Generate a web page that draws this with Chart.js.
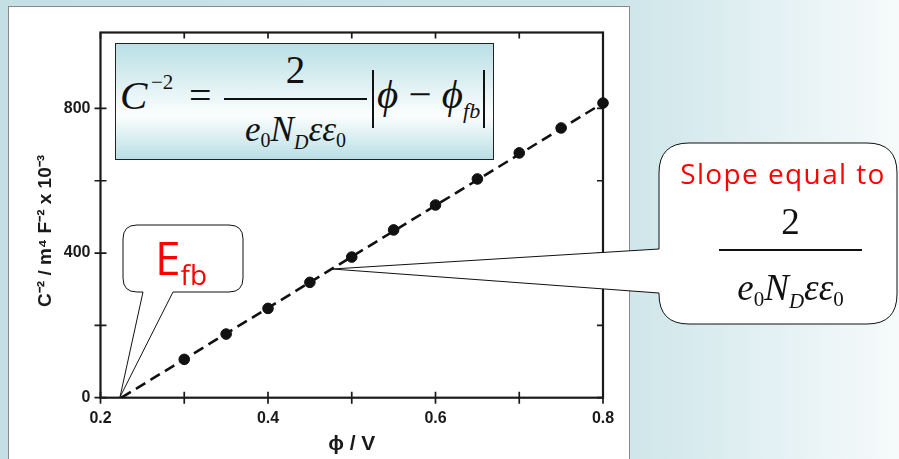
<!DOCTYPE html>
<html>
<head>
<meta charset="utf-8">
<script src="https://cdn.jsdelivr.net/npm/chart.js@4.4.0/dist/chart.umd.min.js"></script>
<style>
  html, body { margin: 0; padding: 0; }
  body {
    width: 899px; height: 459px; overflow: hidden; position: relative;
    background: linear-gradient(to right, #c4e0e5 0%, #cce5e9 68%, #f6fafb 100%);
  }
  #page {
    position: absolute; left: 8px; top: 6px; width: 620px; height: 470px;
    background: #fff; border: 1px solid #8a8a8a;
  }
  #chartWrap { position: absolute; left: 0; top: 0; width: 899px; height: 459px; }
  .abs { position: absolute; white-space: nowrap; line-height: 1; }
  .serif { font-family: "Liberation Serif", "Times New Roman", serif; color: #111; }
  .formula {
    position: absolute; left: 115px; top: 43px; width: 377px; height: 115px;
    border: 1.5px solid #222;
    background: linear-gradient(to bottom, #b9dfe5 0%, #fcfefe 62%, #b9dfe5 100%);
  }
  .bar { position: absolute; background: #111; }
  .red { color: #ff0000; font-family: "Open Sans", "DejaVu Sans", sans-serif; }
  svg { position: absolute; left: 0; top: 0; }
</style>
</head>
<body>
<div id="page"></div>
<div id="chartWrap"><canvas id="mottSchottky" width="899" height="459"></canvas></div>

<div class="formula"></div>
<!-- C^-2 = 2 / (e0 ND ee0) |phi - phi_fb| -->
<div class="abs serif" style="left:120px; top:75px; font-size:41px; font-style:italic;">C</div>
<div class="abs serif" style="left:151px; top:72px; font-size:21px;">&minus;2</div>
<div class="abs serif" style="left:189px; top:76px; font-size:40px;">=</div>
<div class="abs serif" style="left:224px; top:50px; width:143px; text-align:center; font-size:39px;">2</div>
<div class="bar" style="left:224px; top:98px; width:143px; height:2px;"></div>
<div class="abs serif" style="left:224px; top:112px; width:143px; text-align:center; font-size:35px;"><i>e</i><span style="font-size:20px; position:relative; top:6px;">0</span><i>N</i><i style="font-size:20px; position:relative; top:8px;">D</i><i>&epsilon;&epsilon;</i><span style="font-size:20px; position:relative; top:6px;">0</span></div>
<div class="bar" style="left:372px; top:70px; width:1.5px; height:58px;"></div>
<div class="abs serif" style="left:377px; top:74px; font-size:41px; font-style:italic;">&#981;<span style="font-style:normal;"> &minus; </span>&#981;<span style="font-size:22px; position:relative; top:10px;">fb</span></div>
<div class="bar" style="left:483px; top:70px; width:1.5px; height:58px;"></div>

<svg width="899" height="459" viewBox="0 0 899 459">
  <path d="M137,225 H229 Q243,225 243,239 V278 Q243,292 229,292 H173 L120,397 L143,292 H137 Q123,292 123,278 V239 Q123,225 137,225 Z"
        fill="#fff" stroke="#111" stroke-width="1"/>
  <path d="M689,143 H867 Q897,143 897,173 V294 Q897,324 867,324 H689 Q659,324 659,294 V293 L332,269 L659,249 V173 Q659,143 689,143 Z"
        fill="#fff" stroke="#111" stroke-width="1"/>
</svg>

<div class="abs red" style="left:155px; top:234px; font-size:46px;">E<span style="font-size:28px; position:relative; top:10px;">fb</span></div>
<div class="abs red" style="left:659px; top:159px; width:248px; text-align:center; font-size:28px; letter-spacing:1.4px;">Slope equal to</div>
<div class="abs serif" style="left:719px; top:203px; width:143px; text-align:center; font-size:37px;">2</div>
<div class="bar" style="left:719px; top:249px; width:143px; height:2px;"></div>
<div class="abs serif" style="left:719px; top:269px; width:143px; text-align:center; font-size:37px;"><i>e</i><span style="font-size:21px; position:relative; top:6px;">0</span><i>N</i><i style="font-size:21px; position:relative; top:8px;">D</i><i>&epsilon;&epsilon;</i><span style="font-size:21px; position:relative; top:6px;">0</span></div>

<script>
// measured points: phi (V) vs C^-2 (m^4 F^-2 x 10^-3)
const phiValues = [0.30, 0.35, 0.40, 0.45, 0.50, 0.55, 0.60, 0.65, 0.70, 0.75, 0.80];
const invC2Values = [106, 176, 247, 319, 389, 464, 533, 605, 677, 746, 815];

// dashed fit line, from the flat-band potential to the last point
const fitPhi = [0.225, 0.80];
const fitInvC2 = [0, 815];

// tick marks and which of them carry a label
const xTickValues = [0.2, 0.3, 0.4, 0.5, 0.6, 0.7, 0.8];
const xLabelled = [0.2, 0.4, 0.6, 0.8];
const yTickValues = [0, 200, 400, 600, 800];
const yLabelled = [0, 400, 800];

const axisColor = '#1a1a1a';

// frame round the plot area plus tick marks that cross the axes
const frameAndTicks = {
    id: 'frameAndTicks',
    beforeDatasetsDraw(chart) {
        const { ctx, chartArea: a, scales } = chart;
        ctx.save();
        ctx.strokeStyle = axisColor;
        ctx.lineWidth = 2.2;
        ctx.strokeRect(a.left, a.top, a.right - a.left, a.bottom - a.top);
        ctx.lineWidth = 1.7;
        ctx.beginPath();
        scales.x.ticks.forEach(t => {
            const px = scales.x.getPixelForValue(t.value);
            ctx.moveTo(px, a.bottom - 6); ctx.lineTo(px, a.bottom + 6);
            ctx.moveTo(px, a.top); ctx.lineTo(px, a.top + 6);
        });
        scales.y.ticks.forEach(t => {
            const py = scales.y.getPixelForValue(t.value);
            ctx.moveTo(a.left - 6, py); ctx.lineTo(a.left + 6, py);
            ctx.moveTo(a.right - 6, py); ctx.lineTo(a.right, py);
        });
        ctx.stroke();
        ctx.restore();
    }
};

const tickFont = { family: '"Liberation Sans", Arial, sans-serif', size: 16, weight: 'bold' };

new Chart(document.getElementById('mottSchottky'), {
    type: 'scatter',
    data: {
        datasets: [{
            label: 'data',
            data: phiValues.map((p, i) => ({ x: p, y: invC2Values[i] })),
            pointRadius: 5.3,
            pointBackgroundColor: '#111',
            pointBorderColor: '#111',
            showLine: false,
            clip: false
        }, {
            label: 'fit',
            data: fitPhi.map((p, i) => ({ x: p, y: fitInvC2[i] })),
            showLine: true,
            borderColor: '#111',
            borderWidth: 2.6,
            borderDash: [11, 6],
            pointRadius: 0,
            clip: false
        }]
    },
    options: {
        responsive: false,
        animation: false,
        devicePixelRatio: 1,
        layout: { padding: { left: 0, top: 32.5, right: 296, bottom: 0 } },
        plugins: { legend: { display: false }, tooltip: { enabled: false } },
        scales: {
            x: {
                type: 'linear',
                min: 0.2, max: 0.8,
                grid: { display: false, drawTicks: false },
                border: { display: false },
                afterBuildTicks: s => { s.ticks = xTickValues.map(v => ({ value: v })); },
                ticks: {
                    padding: 11,
                    color: axisColor,
                    font: tickFont,
                    maxRotation: 0,
                    autoSkip: false,
                    callback: v => xLabelled.includes(v) ? v.toFixed(1) : ''
                },
                title: {
                    display: true,
                    text: '\u03D5 / V',
                    color: axisColor,
                    font: { family: '"Liberation Sans", Arial, sans-serif', size: 21, weight: 'bold' },
                    padding: { top: 0, bottom: 2 }
                },
                afterFit: s => { s.height = 61.3; }
            },
            y: {
                type: 'linear',
                min: 0, max: 1010,
                grid: { display: false, drawTicks: false },
                border: { display: false },
                afterBuildTicks: s => { s.ticks = yTickValues.map(v => ({ value: v })); },
                ticks: {
                    padding: 10,
                    color: axisColor,
                    font: tickFont,
                    autoSkip: false,
                    callback: v => yLabelled.includes(v) ? String(v) : ''
                },
                title: {
                    display: true,
                    text: 'C\u207B\u00B2 / m\u2074 F\u207B\u00B2 x 10\u207B\u00B3      ',
                    color: axisColor,
                    font: { family: '"Liberation Sans", Arial, sans-serif', size: 19, weight: 'bold' },
                    padding: { top: 34, bottom: 0 }
                },
                afterFit: s => { s.width = 100.5; }
            }
        }
    },
    plugins: [frameAndTicks]
});
</script>
</body>
</html>
